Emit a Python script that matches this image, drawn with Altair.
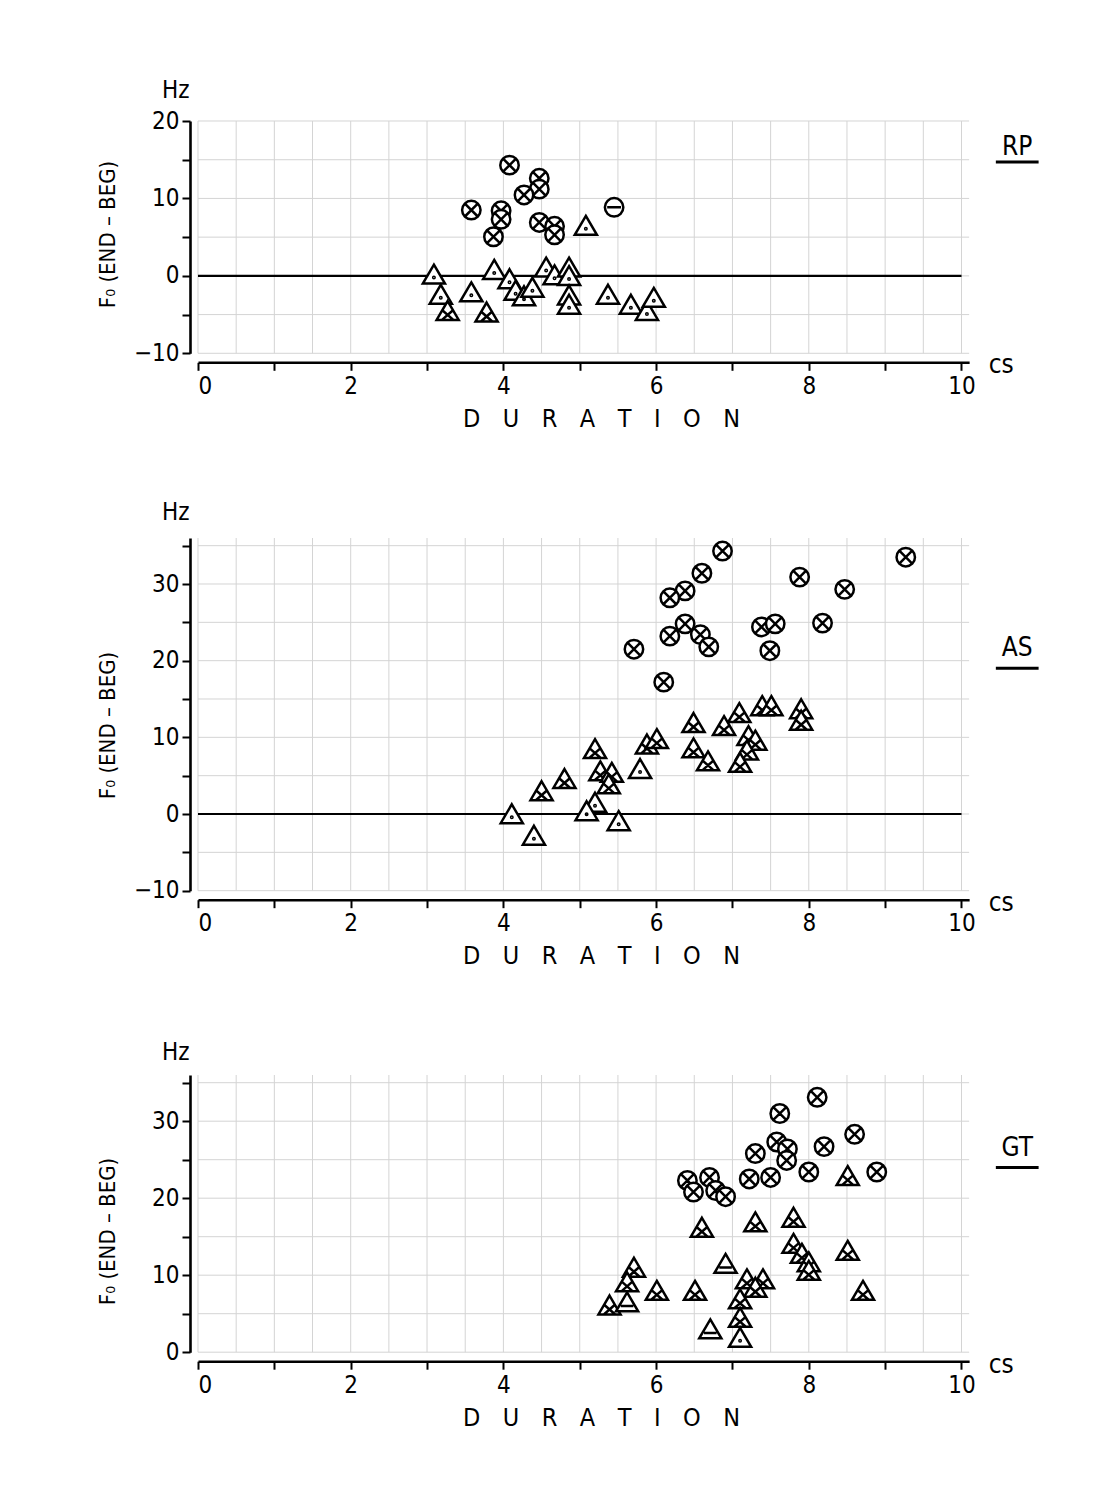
import altair as alt
import pandas as pd

# ---------------- data ----------------
# marker codes: cx = circle with cross, cm = circle with bar,
# td = triangle with dot, tx = triangle with cross, tb = triangle with bar
rp_x = [4.08, 4.47, 4.47, 4.27, 3.58, 3.97, 3.97, 3.87, 4.47, 4.67, 4.67,
        5.45,
        3.09, 3.18, 3.58, 3.88, 4.08, 4.16, 4.27, 4.38, 4.56, 4.67, 4.86, 4.86,
        4.86, 4.86, 5.08, 5.37, 5.67, 5.88, 5.97,
        3.27, 3.78]
rp_y = [14.3, 12.6, 11.2, 10.45, 8.5, 8.4, 7.3, 5.05, 6.9, 6.4, 5.3,
        8.85,
        0.2, -2.4, -2.1, 0.8, -0.4, -1.9, -2.6, -1.5, 1.1, 0.1, 1.1, 0.0,
        -2.5, -3.7, 6.5, -2.4, -3.7, -4.5, -2.8,
        -4.5, -4.7]
rp_t = ["cx"] * 11 + ["cm"] + ["td"] * 19 + ["tx"] * 2

as_x = [6.60, 6.38, 6.18, 6.87, 6.38, 6.18, 6.58, 6.69, 5.71, 6.10, 7.88, 8.47,
        9.27, 7.38, 7.56, 7.49, 8.18,
        4.11, 4.40, 5.20, 5.09, 5.51, 5.79,
        4.50, 4.80, 5.20, 5.27, 5.42, 5.38, 5.88, 6.01, 6.49, 6.49, 6.68, 7.09,
        6.89, 7.39, 7.51, 7.90, 7.90, 7.21, 7.30, 7.19, 7.10]
as_y = [31.4, 29.1, 28.2, 34.3, 24.8, 23.2, 23.4, 21.8, 21.5, 17.2, 30.9, 29.3,
        33.5, 24.4, 24.8, 21.3, 24.9,
        0.0, -2.8, 1.5, 0.4, -0.9, 5.9,
        3.0, 4.6, 8.5, 5.6, 5.4, 3.9, 9.1, 9.8, 11.9, 8.6, 6.9, 13.2,
        11.5, 14.1, 14.1, 13.7, 12.2, 10.2, 9.6, 8.3, 6.7]
as_t = ["cx"] * 17 + ["td"] * 6 + ["tx"] * 21

gt_x = [7.62, 7.58, 7.30, 6.41, 6.49, 6.70, 6.78, 6.91, 7.22, 7.50, 8.11, 7.72,
        7.71, 8.00, 8.20, 8.60, 8.89,
        8.51, 7.80, 7.80, 7.91, 8.00, 8.00, 8.51, 8.71, 6.60, 7.30, 5.71, 5.62,
        5.39, 6.01, 6.51, 7.19, 7.40, 7.30, 7.10, 7.10,
        6.91, 5.62, 6.71,
        7.10]
gt_y = [31.0, 27.3, 25.8, 22.3, 20.8, 22.7, 21.0, 20.2, 22.5, 22.7, 33.1, 26.4,
        24.9, 23.4, 26.7, 28.3, 23.4,
        22.9, 17.5, 14.1, 12.8, 11.7, 10.6, 13.2, 8.0, 16.2, 16.9, 11.0, 9.1,
        6.1, 8.0, 8.0, 9.5, 9.5, 8.4, 6.9, 4.5,
        11.5, 6.5, 3.0,
        1.9]
gt_t = ["cx"] * 17 + ["tx"] * 20 + ["tb"] * 3 + ["td"]

x_ticks = [0, 1, 2, 3, 4, 5, 6, 7, 8, 9, 10]
x_paper = [0, 0.5, 1, 1.5, 2, 2.5, 3, 3.5, 4, 4.5, 5, 5.5, 6, 6.5, 7, 7.5,
           8, 8.5, 9, 9.5, 10]
rp_yticks = [-10, -5, 0, 5, 10, 15, 20]
as_yticks = [-10, -5, 0, 5, 10, 15, 20, 25, 30, 35]
gt_yticks = [0, 5, 10, 15, 20, 25, 30, 35]

panel_names = ["RP", "AS", "GT"]

# ---------------- styling ----------------
FONT = "'Liberation Sans Narrow', 'DejaVu Sans Condensed', 'Roboto Condensed', 'DejaVu Sans', sans-serif"
UNIT = 76.35          # px per cs on x
X_MAX = 10.1

CIRC = "M -1 0 A 1 1 0 1 0 1 0 A 1 1 0 1 0 -1 0 Z"
TRI = "M 0 -1.05 L 1.2 1 L -1.2 1 Z"
SHAPES = {
    "cx": CIRC + " M -0.7 -0.7 L 0.7 0.7 M -0.7 0.7 L 0.7 -0.7",
    "cm": CIRC + " M -0.75 0 L 0.75 0",
    "td": TRI + " M -0.08 0.35 A 0.08 0.08 0 1 0 0.08 0.35 A 0.08 0.08 0 1 0 -0.08 0.35 Z",
    "tx": TRI + " M -0.58 -0.05 L 0.62 1 M 0.58 -0.05 L -0.62 1",
    "tb": TRI + " M -0.68 0.42 L 0.68 0.42",
}
shape_scale = alt.Scale(domain=list(SHAPES.keys()), range=list(SHAPES.values()))

TITLE_X = "D\u2003U\u2003R\u2003A\u2003T\u2003I\u2003O\u2003N"
TITLE_Y = "F\u2080 (END \u2013 BEG)"


def panel(xs, ys, ts, yticks, ymin, ymax, ppu, name, hz_y, cs_y, lab_y,
          under_y, title_y, zero_line):
    height = (ymax - ymin) * ppu
    width = X_MAX * UNIT
    xsc = alt.Scale(domain=[0, X_MAX], nice=False, zero=False)
    ysc = alt.Scale(domain=[ymin, ymax], nice=False, zero=False)
    xaxis = alt.Axis(values=x_ticks, labelExpr="datum.value % 2 == 0 ? datum.label : ''",
                     offset=9, tickSize=8, tickWidth=2, domainWidth=2.6,
                     labelFontSize=24, labelPadding=4, title=TITLE_X,
                     titleFontSize=25, titleFontWeight="normal", titlePadding=8,
                     titleX=403, titleAlign="center",
                     grid=False)
    yaxis = alt.Axis(values=yticks, labelExpr="datum.value % 10 == 0 ? datum.label : ''",
                     offset=8, tickSize=8, tickWidth=2, domainWidth=2.6,
                     labelFontSize=24, labelPadding=3, title=TITLE_Y,
                     titleFontSize=22, titleFontWeight="normal", titleAngle=270,
                     titleBaseline="middle", titleAlign="center",
                     titleX=-82, titleY=title_y, grid=False)
    X = lambda f="x": alt.X(f"{f}:Q", scale=xsc, axis=xaxis)
    Y = lambda f="y": alt.Y(f"{f}:Q", scale=ysc, axis=yaxis)

    paper_v = alt.Chart(pd.DataFrame({"x": x_paper})).mark_rule(
        color="#d4d4d4", strokeWidth=1).encode(x=X())
    paper_h = alt.Chart(pd.DataFrame({"y": yticks})).mark_rule(
        color="#d4d4d4", strokeWidth=1).encode(y=Y())
    layers = [paper_v, paper_h]
    if zero_line:
        zl = alt.Chart(pd.DataFrame({"x": [0], "x2": [10], "y": [0]})).mark_rule(
            color="black", strokeWidth=2.2).encode(x=X(), x2="x2:Q", y=Y())
        layers.append(zl)
    pts = alt.Chart(pd.DataFrame({"x": xs, "y": ys, "t": ts})).mark_point(
        filled=True, fill="white", stroke="black", strokeWidth=2.5,
        opacity=1, size=340).encode(
        x=X(), y=Y(), shape=alt.Shape("t:N", scale=shape_scale, legend=None))
    layers.append(pts)
    hz = alt.Chart(pd.DataFrame({"x": [-0.29], "y": [hz_y], "s": ["Hz"]})).mark_text(
        font=FONT, fontSize=24, color="black").encode(x=X(), y=Y(), text="s:N")
    cs = alt.Chart(pd.DataFrame({"x": [10.52], "y": [cs_y], "s": ["cs"]})).mark_text(
        font=FONT, fontSize=26, color="black").encode(x=X(), y=Y(), text="s:N")
    lab = alt.Chart(pd.DataFrame({"x": [10.73], "y": [lab_y], "s": [name]})).mark_text(
        font=FONT, fontSize=26, color="black").encode(x=X(), y=Y(), text="s:N")
    und = alt.Chart(pd.DataFrame({"x": [10.45], "x2": [11.01], "y": [under_y]})).mark_rule(
        color="black", strokeWidth=3).encode(x=X(), x2="x2:Q", y=Y())
    layers += [hz, cs, lab, und]
    return alt.layer(*layers).properties(width=width, height=height)


p1 = panel(rp_x, rp_y, rp_t, rp_yticks, -10, 20, 7.743, panel_names[0],
           23.9, -11.5, 16.6, 14.7, 113, True)
p2 = panel(as_x, as_y, as_t, as_yticks, -10, 36, 7.667, panel_names[1],
           39.3, -11.6, 21.6, 19.0, 187, True)
p3 = panel(gt_x, gt_y, gt_t, gt_yticks, 0, 36, 7.7, panel_names[2],
           38.9, -1.6, 26.5, 24.0, 156, False)

chart = alt.vconcat(p1, p2, p3, spacing=184, bounds="flush").properties(
    padding={"left": 97, "top": 78, "right": 10, "bottom": 10},
    background="white",
).configure_view(stroke=None).configure_axis(
    labelFont=FONT, titleFont=FONT, labelColor="black", titleColor="black",
    domainColor="black", tickColor="black")

chart.save("out.html", embed_options={"renderer": "svg", "actions": False})
